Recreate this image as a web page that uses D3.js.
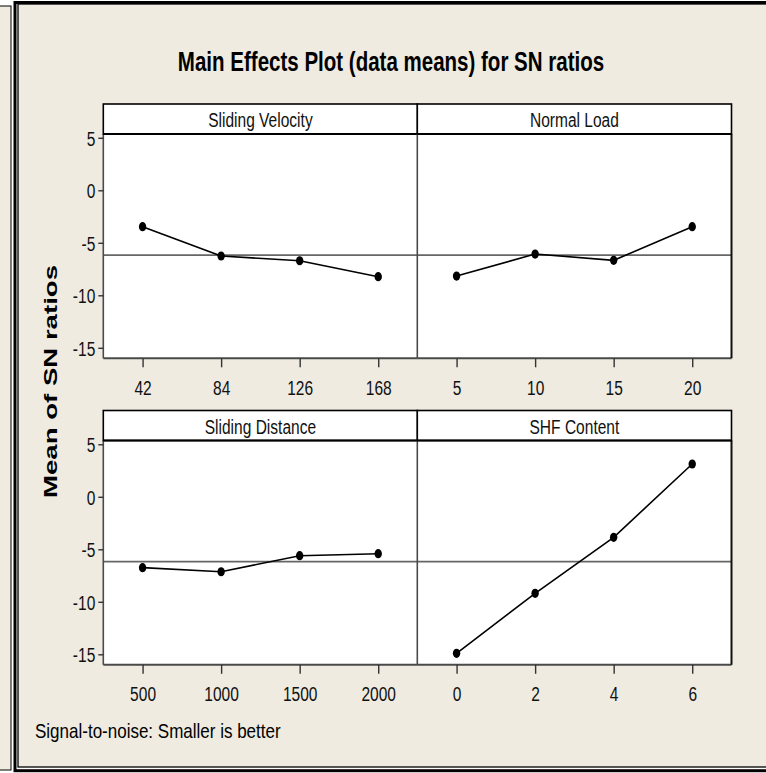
<!DOCTYPE html>
<html><head><meta charset="utf-8">
<script src="https://cdn.jsdelivr.net/npm/d3@7"></script>
<style>body{margin:0;background:#fff}svg{display:block}</style>
</head><body><svg id="c" width="766" height="773"></svg>
<script>
// ---- data ----
const factors = ["Sliding Velocity", "Normal Load", "Sliding Distance", "SHF Content"];
const levelsSV  = ["42", "84", "126", "168"];
const levelsNL  = ["5", "10", "15", "20"];
const levelsSD  = ["500", "1000", "1500", "2000"];
const levelsSHF = ["0", "2", "4", "6"];
const meansSV  = [-3.47, -6.26, -6.71, -8.23];
const meansNL  = [-8.17, -6.07, -6.67, -3.47];
const meansSD  = [-6.75, -7.14, -5.61, -5.42];
const meansSHF = [-14.91, -9.19, -3.86, 3.12];
const grandMean = -6.17;
const yTicks = [5, 0, -5, -10, -15];
const yTickLabels = ["5", "0", "-5", "-10", "-15"];
const yDomain = [-16.0, 5.36];
const titleText = "Main Effects Plot (data means) for SN ratios";
const yLabelText = "Mean of SN ratios";
const footerText = "Signal-to-noise: Smaller is better";

// ---- layout ----
const beige = "#EFEBE1";
const font = "'Liberation Sans', Arial, sans-serif";
const colX = [103.3, 417.3];
const panelW = 314.2;
const headerTop = [104, 410.5];
const headerH = 30;
const plotH = 224.3;
const kNarrow = 0.74;

const svg = d3.select("#c");
svg.append("rect").attr("width", 766).attr("height", 773).attr("fill", "#fff");

// left neighbouring window strip
svg.append("rect").attr("x", -1).attr("y", 6).attr("width", 12).attr("height", 764)
  .attr("fill", beige).attr("stroke", "#000").attr("stroke-width", 1);
// main frame
svg.append("rect").attr("x", 15).attr("y", 2.5).attr("width", 800).attr("height", 768.2)
  .attr("fill", "#fff").attr("stroke", "#000").attr("stroke-width", 3);
svg.append("rect").attr("x", 18).attr("y", 4).attr("width", 800).attr("height", 763)
  .attr("fill", beige).attr("stroke", "#000").attr("stroke-width", 1.3);

// title
svg.append("text").attr("transform", "translate(391,71) scale(0.76,1)")
  .attr("text-anchor", "middle").attr("font-family", font).attr("font-weight", "bold")
  .attr("font-size", 27).attr("fill", "#000").text(titleText);

// y label
svg.append("text").attr("transform", "translate(57,381.5) scale(0.66,1) rotate(-90)")
  .attr("text-anchor", "middle").attr("font-family", font).attr("font-weight", "bold")
  .attr("font-size", 27).attr("fill", "#000")
  .attr("textLength", 233).attr("lengthAdjust", "spacingAndGlyphs").text(yLabelText);

// footer
svg.append("text").attr("transform", "translate(35,738) scale(0.81,1)")
  .attr("font-family", font).attr("font-size", 21).attr("fill", "#000").text(footerText);

const panels = [
  {name: factors[0], levels: levelsSV,  values: meansSV,  col: 0, row: 0},
  {name: factors[1], levels: levelsNL,  values: meansNL,  col: 1, row: 0},
  {name: factors[2], levels: levelsSD,  values: meansSD,  col: 0, row: 1},
  {name: factors[3], levels: levelsSHF, values: meansSHF, col: 1, row: 1}
];

const y = d3.scaleLinear().domain(yDomain).range([plotH, 0]);

panels.forEach(p => {
  const x0 = colX[p.col];
  const hTop = headerTop[p.row];
  const pTop = hTop + headerH;
  const x = d3.scalePoint().domain(p.levels).range([0, panelW]).padding(0.5);

  const g = svg.append("g").attr("transform", `translate(${x0},${pTop})`);
  g.append("rect").attr("width", panelW).attr("height", plotH).attr("fill", "#fff");

  // reference line
  g.append("line").attr("x1", 0).attr("x2", panelW)
    .attr("y1", y(grandMean)).attr("y2", y(grandMean))
    .attr("stroke", "#666").attr("stroke-width", 1.6);

  const pts = p.levels.map((l, i) => ({l, v: p.values[i]}));
  g.append("path").datum(pts)
    .attr("d", d3.line().x(d => x(d.l)).y(d => y(d.v)))
    .attr("fill", "none").attr("stroke", "#000").attr("stroke-width", 1.6);
  g.selectAll("ellipse.pt").data(pts).enter().append("ellipse")
    .attr("cx", d => x(d.l)).attr("cy", d => y(d.v))
    .attr("rx", 3.7).attr("ry", 4.6).attr("fill", "#000");

  // borders of plot area
  g.append("line").attr("x1", 0).attr("x2", 0).attr("y1", 0).attr("y2", plotH)
    .attr("stroke", "#4a4a4a").attr("stroke-width", 1.6);
  g.append("line").attr("x1", 0).attr("x2", panelW).attr("y1", plotH).attr("y2", plotH)
    .attr("stroke", "#4a4a4a").attr("stroke-width", 2);
  if (p.col === 1) {
    g.append("line").attr("x1", panelW).attr("x2", panelW).attr("y1", 0).attr("y2", plotH)
      .attr("stroke", "#111").attr("stroke-width", 2);
  }

  // header strip
  const hg = svg.append("g").attr("transform", `translate(${x0},${hTop})`);
  hg.append("rect").attr("width", panelW).attr("height", headerH)
    .attr("fill", "#fff").attr("stroke", "#000").attr("stroke-width", 1.6);
  hg.append("line").attr("x1", 0).attr("x2", panelW).attr("y1", headerH).attr("y2", headerH)
    .attr("stroke", "#000").attr("stroke-width", 2);
  hg.append("text").attr("transform", `translate(${panelW / 2},23) scale(${kNarrow},1)`)
    .attr("text-anchor", "middle").attr("font-family", font).attr("font-size", 21)
    .attr("fill", "#111").text(p.name);

  // x axis
  const ax = g.append("g").attr("transform", `translate(0,${plotH})`)
    .call(d3.axisBottom(x).tickSize(9).tickSizeOuter(0));
  ax.select(".domain").remove();
  ax.selectAll(".tick line").attr("stroke", "#333").attr("stroke-width", 1.4);
  ax.selectAll(".tick text").attr("y", 0).attr("dy", null)
    .attr("transform", `translate(0,36.5) scale(${kNarrow},1)`)
    .attr("font-family", font).attr("font-size", 21).attr("fill", "#111");

  // y axis on left column
  if (p.col === 0) {
    const ay = g.append("g")
      .call(d3.axisLeft(y).tickValues(yTicks).tickSize(5)
        .tickFormat((d, i) => yTickLabels[i]));
    ay.select(".domain").remove();
    ay.selectAll(".tick line").attr("stroke", "#333").attr("stroke-width", 1.4);
    ay.selectAll(".tick text").attr("x", 0).attr("dy", null)
      .attr("transform", `translate(-8,7.5) scale(${kNarrow},1)`)
      .attr("font-family", font).attr("font-size", 21).attr("fill", "#111");
  }
});
</script></body></html>
